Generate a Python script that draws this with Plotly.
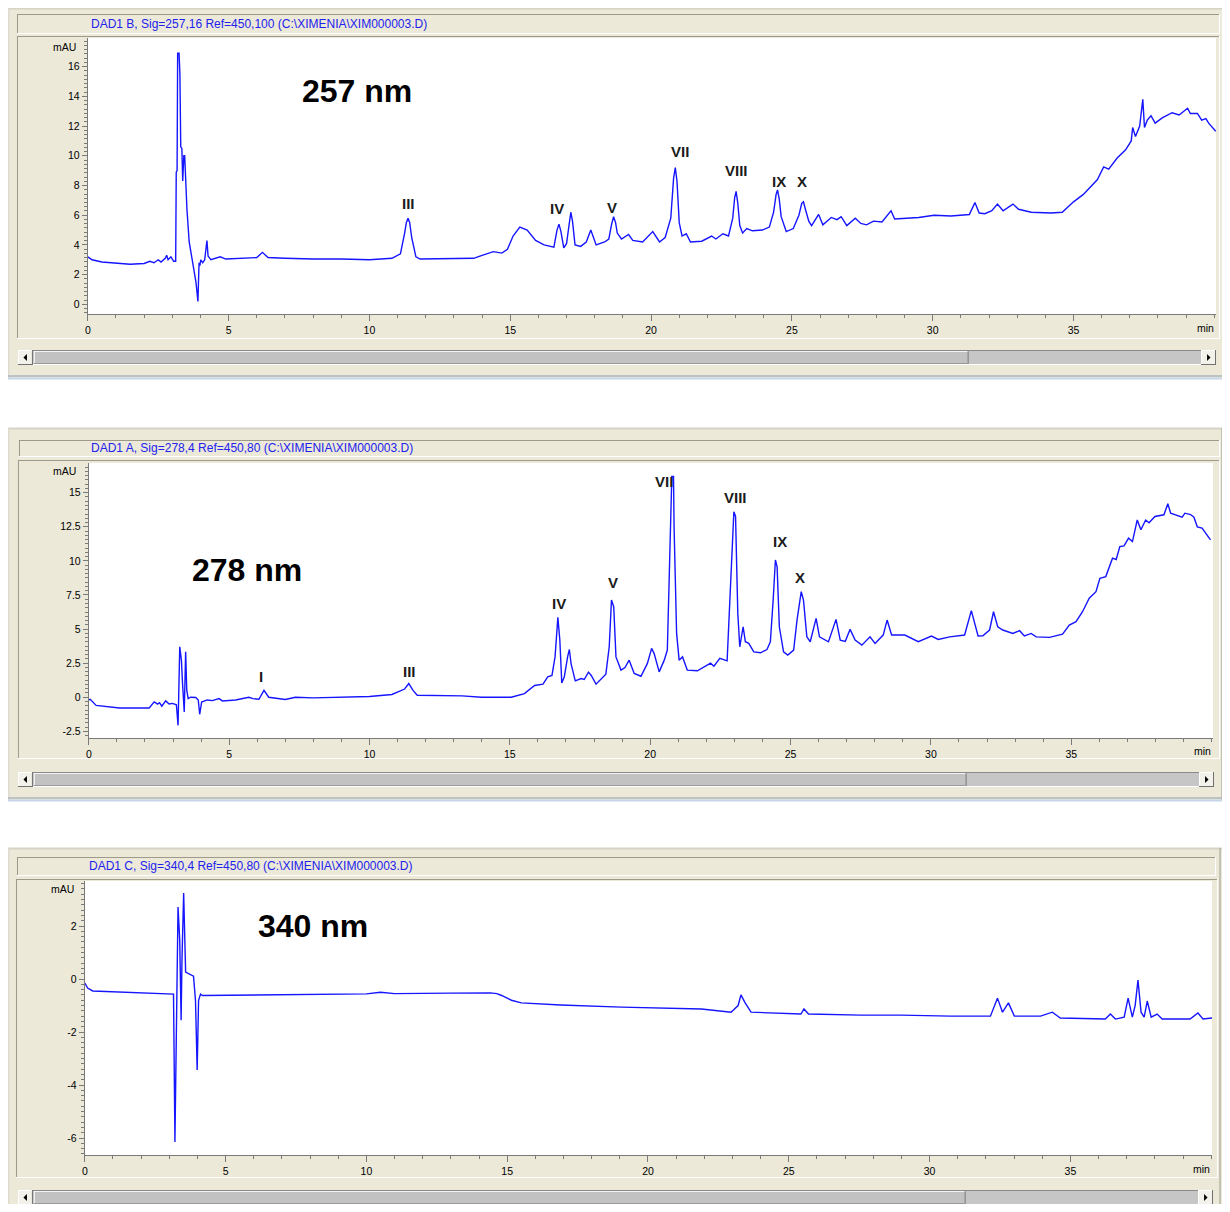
import plotly.graph_objects as go

# page body has an 8px margin: the figure is laid out in page pixels minus that offset
OFF = 8
W, H = 1230 - 2 * OFF, 1212 - 2 * OFF

# ---------------- data ----------------
# Panel 1 : DAD1 B, 257 nm
t257 = [0.00, 0.15, 0.5, 1.0, 1.5, 2.0, 2.2, 2.35, 2.5, 2.6, 2.75, 2.8, 2.85, 2.95, 3.05, 3.12,
        3.14, 3.17, 3.19, 3.24, 3.27, 3.30, 3.34, 3.37, 3.41, 3.44, 3.47, 3.52, 3.60, 3.72, 3.84,
        3.91, 3.95, 3.98, 4.01, 4.08, 4.15, 4.23, 4.27, 4.37, 4.7, 4.9, 5.5, 6.0, 6.2, 6.4, 7.0,
        8.0, 9.0, 10.0, 10.8, 11.1, 11.25, 11.31, 11.37, 11.43, 11.5, 11.65, 11.8, 13.0, 13.7, 14.0,
        14.4, 14.7, 14.9, 15.1, 15.34, 15.6, 15.9, 16.2, 16.55, 16.66, 16.73, 16.8, 16.9, 17.0,
        17.09, 17.15, 17.21, 17.3, 17.5, 17.7, 17.86, 18.05, 18.35, 18.5, 18.6, 18.67, 18.74, 18.8,
        18.95, 19.2, 19.35, 19.7, 20.06, 20.3, 20.5, 20.7, 20.8, 20.86, 20.92, 21.0, 21.1, 21.25,
        21.4, 21.8, 22.15, 22.3, 22.55, 22.75, 22.9, 22.97, 23.02, 23.08, 23.15, 23.25, 23.4, 23.6,
        23.95, 24.2, 24.35, 24.44, 24.49, 24.55, 24.62, 24.8, 25.05, 25.25, 25.35, 25.41, 25.48,
        25.6, 25.7, 25.95, 26.1, 26.4, 26.6, 26.75, 26.95, 27.25, 27.45, 27.65, 27.9, 28.2, 28.52,
        28.65, 29.5, 30.05, 30.65, 31.3, 31.5, 31.65, 31.85, 32.1, 32.3, 32.5, 32.85, 33.05, 33.5,
        34.2, 34.6, 35.0, 35.35, 35.85, 36.07, 36.25, 36.55, 36.85, 37.05, 37.1, 37.2, 37.35,
        37.46, 37.52, 37.62, 37.75, 37.9, 38.15, 38.5, 38.75, 39.05, 39.15, 39.4, 39.55, 39.7,
        39.8, 40.05]
a257 = [3.2, 3.0, 2.85, 2.75, 2.7, 2.75, 2.9, 2.8, 3.0, 2.85, 3.1, 3.3, 3.0, 3.2, 2.9, 2.9,
        8.9, 9.0, 16.9, 16.9, 15.5, 10.6, 10.5, 8.3, 10.0, 10.0, 8.3, 6.4, 4.2, 2.8, 1.5,
        0.2, 2.8, 2.6, 3.0, 2.8, 3.0, 4.3, 3.25, 3.0, 3.2, 3.05, 3.1, 3.15, 3.5, 3.15, 3.1,
        3.05, 3.05, 3.0, 3.1, 3.4, 4.8, 5.5, 5.8, 5.5, 4.5, 3.2, 3.05, 3.05, 3.1, 3.3,
        3.55, 3.45, 3.7, 4.6, 5.2, 5.0, 4.3, 4.0, 3.85, 5.0, 5.4, 4.9, 3.8, 4.1,
        5.6, 6.2, 5.6, 4.0, 3.9, 4.2, 5.0, 4.0, 4.2, 4.4, 5.4, 5.9, 5.5, 4.8,
        4.4, 4.7, 4.3, 4.2, 4.9, 4.2, 4.5, 5.8, 8.5, 9.2, 8.3, 5.5, 4.6, 4.75,
        4.2, 4.25, 4.6, 4.4, 4.75, 4.6, 5.8, 7.2, 7.6, 6.8, 5.3, 4.8, 5.1, 4.95,
        5.0, 5.2, 6.2, 7.4, 7.7, 7.1, 5.9, 4.9, 5.1, 6.0, 6.8, 6.9, 6.4,
        5.6, 5.3, 6.05, 5.35, 5.85, 5.7, 5.9, 5.3, 5.8, 5.45, 5.35, 5.6, 5.55, 6.3,
        5.75, 5.85, 6.0, 5.95, 6.05, 6.85, 6.15, 6.1, 6.3, 6.75, 6.3, 6.75, 6.4, 6.2,
        6.15, 6.2, 6.9, 7.4, 8.4, 9.25, 9.1, 9.85, 10.4, 11.0, 11.9, 11.3, 12.0,
        13.8, 11.9, 12.4, 12.7, 12.2, 12.55, 12.9, 12.75, 13.2, 12.85, 12.85, 12.4, 12.5,
        12.2, 11.65]

# Panel 2 : DAD1 A, 278 nm
t278 = [0.00, 0.05, 0.26, 0.6, 1.09, 2.15, 2.33, 2.45, 2.52, 2.60, 2.74, 2.86, 2.98, 3.12, 3.18,
        3.24, 3.30, 3.34, 3.40, 3.45, 3.49, 3.54, 3.63, 3.81, 3.90, 3.95, 4.02, 4.22, 4.4, 4.64,
        4.76, 5.23, 5.70, 5.85, 6.06, 6.24, 6.41, 7.0, 7.36, 8.0, 9.0, 10.0, 10.8, 11.1, 11.25,
        11.4, 11.55, 11.7, 12.5, 13.3, 13.99, 15.05, 15.52, 15.88, 16.18, 16.35, 16.5, 16.61,
        16.71, 16.78, 16.85, 16.94, 17.06, 17.12, 17.18, 17.33, 17.54, 17.65, 17.8, 17.9, 18.07,
        18.42, 18.54, 18.62, 18.7, 18.78, 18.96, 19.1, 19.25, 19.43, 19.67, 19.9, 20.05, 20.14,
        20.32, 20.5, 20.61, 20.73, 20.77, 20.83, 20.85, 20.94, 21.03, 21.15, 21.32, 21.68, 22.03,
        22.15, 22.27, 22.48, 22.74, 22.84, 22.98, 23.04, 23.12, 23.19, 23.31, 23.39, 23.51, 23.69,
        23.93, 24.16, 24.28, 24.38, 24.46, 24.52, 24.6, 24.75, 24.9, 25.11, 25.23, 25.38, 25.46,
        25.58, 25.7, 25.91, 26.03, 26.35, 26.62, 26.77, 26.95, 27.12, 27.3, 27.54, 27.83, 28.01,
        28.3, 28.44, 28.6, 29.07, 29.55, 30.02, 30.26, 30.67, 31.2, 31.44, 31.68, 31.85, 32.09,
        32.23, 32.38, 32.56, 32.92, 33.16, 33.33, 33.57, 33.75, 34.22, 34.69, 34.93, 35.17, 35.4,
        35.64, 35.88, 36.02, 36.23, 36.47, 36.6, 36.73, 36.88, 37.04, 37.18, 37.35, 37.48, 37.65,
        37.77, 37.98, 38.3, 38.44, 38.54, 38.95, 39.05, 39.25, 39.37, 39.49, 39.66, 39.96]
a278 = [-0.2, -0.15, -0.6, -0.66, -0.79, -0.79, -0.34, -0.5, -0.4, -0.66, -0.27, -0.5, -0.45, -0.55, -2.06,
        3.7, 2.7, 1.0, -1.08, 3.33, 0.5, -0.1, 0.0, -0.02, -0.2, -1.25, -0.35, -0.2, -0.25, -0.1,
        -0.27, -0.2, 0.0, -0.1, -0.15, 0.5, 0.0, -0.17, 0.0, -0.05, 0.0, 0.05, 0.2, 0.5, 0.6,
        1.0, 0.5, 0.15, 0.15, 0.1, 0.0, 0.0, 0.27, 0.86, 0.96, 1.5, 1.6, 2.96,
        5.86, 4.2, 1.05, 1.5, 3.0, 3.5, 2.47, 1.2, 1.37, 1.3, 1.84, 1.6, 0.96,
        1.69, 3.7, 7.13, 6.64, 2.96, 1.99, 2.18, 2.72, 1.74, 1.54, 2.48, 3.58, 3.2,
        1.86, 2.72, 3.46, 12.5, 16.2, 16.2, 12.5, 4.7, 2.72, 2.96, 1.99, 1.94, 2.35,
        2.5, 2.28, 2.85, 2.67, 7.13, 13.6, 13.26, 6.15, 3.7, 5.17, 4.07, 3.95, 3.33,
        3.26, 3.5, 4.07, 7.13, 10.07, 9.58, 5.17, 3.33, 3.09, 3.46, 5.66, 7.74, 7.13,
        4.43, 4.07, 5.78, 4.43, 4.07, 5.71, 4.19, 4.1, 4.98, 4.19, 3.82, 4.43, 3.94,
        4.56, 5.66, 4.56, 4.56, 4.07, 4.49, 4.24, 4.43, 4.56, 6.35, 4.49, 4.5, 4.93,
        6.27, 5.17, 4.93, 4.68, 4.88, 4.49, 4.68, 4.43, 4.39, 4.63, 5.29, 5.54, 6.27,
        7.26, 7.74, 8.73, 8.85, 10.2, 10.1, 11.05, 11.1, 11.67, 11.42, 13.0, 12.28, 13.0,
        12.8, 13.26, 13.38, 14.19, 13.5, 13.2, 13.5, 13.4, 13.2, 12.5, 12.4, 11.54]

# Panel 3 : DAD1 C, 340 nm
t340 = [0.0, 0.1, 0.28, 1.35, 2.41, 3.05, 3.15, 3.2, 3.26, 3.31, 3.37, 3.42, 3.45, 3.51, 3.58,
        3.72, 3.86, 3.93, 3.99, 4.04, 4.11, 4.18, 6.0, 8.0, 10.0, 10.5, 11.0, 13.0, 14.4, 14.63,
        14.8, 15.15, 15.5, 16.9, 19.06, 21.9, 22.95, 23.2, 23.3, 23.45, 23.66, 25.43, 25.54, 25.7,
        27.56, 28.98, 30.75, 32.16, 32.41, 32.59, 32.8, 33.01, 33.94, 34.36, 34.64, 36.24, 36.42,
        36.6, 36.91, 37.05, 37.2, 37.3, 37.4, 37.51, 37.62, 37.73, 37.87, 38.08, 38.26, 39.25,
        39.53, 39.71, 40.03]
a340 = [-0.15, -0.34, -0.45, -0.49, -0.53, -0.57, -0.57, -6.15, -0.6, 2.72, 1.47, -1.55, 0.7, 3.25, 0.26,
        0.19, 0.11, -0.8, -3.43, -0.8, -0.57, -0.62, -0.6, -0.58, -0.56, -0.5, -0.55, -0.53, -0.52, -0.55,
        -0.62, -0.8, -0.9, -0.98, -1.06, -1.13, -1.25, -1.0, -0.6, -0.9, -1.25, -1.32, -1.13, -1.32,
        -1.36, -1.36, -1.4, -1.4, -0.72, -1.25, -0.9, -1.4, -1.4, -1.25, -1.47, -1.51, -1.32,
        -1.51, -1.44, -0.72, -1.44, -1.0, -0.04, -1.25, -1.44, -0.83, -1.44, -1.32, -1.51, -1.51,
        -1.28, -1.51, -1.47]

x_ticks = [0, 5, 10, 15, 20, 25, 30, 35]
y257_ticks = [0, 2, 4, 6, 8, 10, 12, 14, 16]
y278_ticks = [-2.5, 0, 2.5, 5, 7.5, 10, 12.5, 15]
y278_text = ["-2.5", "0", "2.5", "5", "7.5", "10", "12.5", "15"]
y340_ticks = [-6, -4, -2, 0, 2]

titles = ["DAD1 B, Sig=257,16 Ref=450,100 (C:\\XIMENIA\\XIM000003.D)",
          "DAD1 A, Sig=278,4 Ref=450,80 (C:\\XIMENIA\\XIM000003.D)",
          "DAD1 C, Sig=340,4 Ref=450,80 (C:\\XIMENIA\\XIM000003.D)"]
wavelengths = ["257 nm", "278 nm", "340 nm"]

peaks257 = ["III", "IV", "V", "VII", "VIII", "IX", "X"]
peaks278 = ["I", "III", "IV", "V", "VII", "VIII", "IX", "X"]

# ---------------- helpers ----------------
FONT = "Liberation Sans, Arial, sans-serif"
BEIGE = "#ECE9D8"
BLUE = "#1515ff"


def px(x):
    return (x - OFF) / W


def py(y):
    return 1 - (y - OFF) / H


shapes = []


def rect(x0, y0, x1, y1, fill, line=None, lw=0):
    shapes.append(dict(type="rect", xref="paper", yref="paper", layer="below",
                       x0=px(x0), x1=px(x1), y0=py(y1), y1=py(y0), fillcolor=fill,
                       line=dict(width=lw, color=line or fill)))


def hline(x0, x1, y, color, w=1):
    shapes.append(dict(type="line", xref="paper", yref="paper", layer="below",
                       x0=px(x0), x1=px(x1), y0=py(y), y1=py(y), line=dict(color=color, width=w)))


def vline(x, y0, y1, color, w=1):
    shapes.append(dict(type="line", xref="paper", yref="paper", layer="below",
                       x0=px(x), x1=px(x), y0=py(y0), y1=py(y1), line=dict(color=color, width=w)))


def sunken(x0, y0, x1, y1, fill):
    rect(x0, y0, x1, y1, fill)
    hline(x0, x1, y0 + 0.5, "#9d9a8c")
    vline(x0 + 0.5, y0, y1, "#9d9a8c")
    hline(x0, x1, y1 - 0.5, "#ffffff")
    vline(x1 - 0.5, y0, y1, "#ffffff")


def button(x0, y0, x1, y1, direction):
    rect(x0, y0, x1, y1, "#f2f1ea")
    hline(x0, x1, y0 + 0.5, "#ffffff")
    vline(x0 + 0.5, y0, y1, "#ffffff")
    hline(x0, x1, y1 - 0.5, "#6f6f6f")
    vline(x1 - 0.5, y0, y1, "#6f6f6f")
    cx, cy = (x0 + x1) / 2, (y0 + y1) / 2
    if direction == "left":
        pts = [(cx - 2, cy), (cx + 1.5, cy - 3.5), (cx + 1.5, cy + 3.5)]
    else:
        pts = [(cx + 2, cy), (cx - 1.5, cy - 3.5), (cx - 1.5, cy + 3.5)]
    path = "M {} {} L {} {} L {} {} Z".format(*[v for p in pts for v in (px(p[0]), py(p[1]))])
    shapes.append(dict(type="path", xref="paper", yref="paper", layer="below", path=path,
                       fillcolor="#000000", line=dict(width=0)))


def window(outer, titlebar, plotbox, white, scroll, thumb_end):
    ox0, oy0, ox1, oy1 = outer
    rect(ox0, oy0, ox1, oy1, BEIGE)
    hline(ox0, ox1, oy0 + 0.5, "#d6d3c6", 2)
    vline(ox0 + 0.5, oy0, oy1, "#dedbd0", 2)
    vline(ox1 - 4, oy0, oy1, "#b7b4a6", 1.5)
    vline(ox1 - 1, oy0, oy1, "#8e8c82", 1.5)
    hline(ox0, ox1, oy1 - 3, "#aeb4bd", 1.5)
    hline(ox0, ox1, oy1 - 0.5, "#c6d5ea", 2)
    sunken(*titlebar, BEIGE)
    sunken(*plotbox, BEIGE)
    rect(*white, "#ffffff")
    sx0, sy0, sx1, sy1 = scroll
    rect(sx0, sy0, sx1, sy1, "#c6c6c6")
    hline(sx0, sx1, sy0 + 0.5, "#8a8a8a")
    hline(sx0, sx1, sy1 - 0.5, "#ffffff")
    bw = sy1 - sy0
    tx0 = sx0 + bw + 1
    rect(tx0, sy0 + 1, thumb_end, sy1 - 1, "#c2c2c2")
    hline(tx0, thumb_end, sy0 + 1.5, "#f4f4f4")
    vline(tx0 + 0.5, sy0 + 1, sy1 - 1, "#f4f4f4")
    vline(thumb_end - 0.5, sy0 + 1, sy1 - 1, "#7a7a7a")
    hline(tx0, thumb_end, sy1 - 1.5, "#9a9a9a")
    button(sx0, sy0, sx0 + bw, sy1, "left")
    button(sx1 - bw, sy0, sx1, sy1, "right")


# window chrome (page pixel boxes)
window((5, 8, 1228, 379), (14, 14, 1220, 34), (14, 36, 1220, 339), (85, 38, 1216, 314),
       (15, 350, 1216, 365), 968)
window((5, 428, 1226, 801), (16, 440, 1220, 457), (15, 460, 1220, 759), (86, 463, 1213, 738),
       (15, 772, 1214, 787), 966)
window((5, 848, 1224, 1216), (14, 857, 1216, 876), (13, 879, 1218, 1178), (82, 881, 1212, 1155),
       (15, 1190, 1213, 1205), 965)

# ---------------- figure ----------------
fig = go.Figure()
fig.add_trace(go.Scatter(x=t257, y=a257, mode="lines", line=dict(color=BLUE, width=1.4),
                         xaxis="x", yaxis="y", showlegend=False, hoverinfo="skip"))
fig.add_trace(go.Scatter(x=t278, y=a278, mode="lines", line=dict(color=BLUE, width=1.4),
                         xaxis="x2", yaxis="y2", showlegend=False, hoverinfo="skip"))
fig.add_trace(go.Scatter(x=t340, y=a340, mode="lines", line=dict(color=BLUE, width=1.4),
                         xaxis="x3", yaxis="y3", showlegend=False, hoverinfo="skip"))

TICKC = "#7a7a7a"


def xaxis(x0, x1, rng, anchor):
    return dict(domain=[px(x0), px(x1)], range=rng, anchor=anchor, tickmode="array",
                tickvals=x_ticks, ticks="outside", ticklen=6, tickcolor=TICKC, showline=True,
                linecolor=TICKC, linewidth=1, showgrid=False, zeroline=False, fixedrange=True,
                tickfont=dict(family=FONT, size=10.5, color="#000000"),
                minor=dict(tickmode="linear", tick0=0, dtick=1, ticks="outside", ticklen=3,
                           tickcolor=TICKC, showgrid=False))


def yaxis(y0, y1, rng, anchor, vals, text, mdt):
    return dict(domain=[py(y1), py(y0)], range=rng, anchor=anchor, tickmode="array",
                tickvals=vals, ticktext=text, ticks="outside", ticklen=5, tickcolor=TICKC,
                showline=True, linecolor=TICKC, linewidth=1, showgrid=False, zeroline=False,
                fixedrange=True, tickfont=dict(family=FONT, size=10.5, color="#000000"),
                minor=dict(tickmode="linear", tick0=0, dtick=mdt, ticks="outside", ticklen=3,
                           tickcolor=TICKC, showgrid=False))


annotations = []


def ann(text, x, y, xref="paper", yref="paper", size=10.5, color="#000000", xanchor="center",
        yanchor="middle"):
    annotations.append(dict(text=text, x=x, y=y, xref=xref, yref=yref, showarrow=False,
                            xanchor=xanchor, yanchor=yanchor,
                            font=dict(family=FONT, size=size, color=color)))


# title bars, units
ann(titles[0], px(256.5), py(24), size=12, color="#2222ee")
ann(titles[1], px(250), py(448), size=12, color="#2222ee")
ann(titles[2], px(249), py(866), size=12, color="#2222ee")
for (mx, my) in [(75, 47), (75, 471), (73, 889)]:
    ann("mAU", px(mx), py(my), xanchor="right")
for (nx, ny) in [(1205, 328), (1202, 751), (1201, 1169)]:
    ann("min", px(nx), py(ny))

# wavelength labels (data coords)
ann("<b>%s</b>" % wavelengths[0], 9.56, 14.36, "x", "y", size=32)
ann("<b>%s</b>" % wavelengths[1], 5.65, 9.32, "x2", "y2", size=32)
ann("<b>%s</b>" % wavelengths[2], 8.11, 2.0, "x3", "y3", size=32)

# peak labels (data coords)
pos257 = [(11.37, 6.82), (16.65, 6.42), (18.63, 6.55), (21.04, 10.26), (23.03, 8.98),
          (24.55, 8.24), (25.36, 8.24)]
for lab, (x, y) in zip(peaks257, pos257):
    ann("<b>%s</b>" % lab, x, y, "x", "y", size=15, color="#1b1b1b")
pos278 = [(6.15, 1.54), (11.44, 1.91), (16.74, 6.9), (18.66, 8.44), (20.5, 15.86),
          (23.03, 14.68), (24.63, 11.45), (25.34, 8.81)]
for lab, (x, y) in zip(peaks278, pos278):
    ann("<b>%s</b>" % lab, x, y, "x2", "y2", size=15, color="#1b1b1b")

fig.update_layout(
    width=W, height=H, margin=dict(l=0, r=0, t=0, b=0),
    paper_bgcolor="#ffffff", plot_bgcolor="rgba(0,0,0,0)",
    showlegend=False, hovermode=False,
    xaxis=xaxis(85, 1216, [0, 40.06], "y"),
    yaxis=yaxis(38, 314, [-0.65, 17.93], "x", y257_ticks, [str(v) for v in y257_ticks], 2 / 7),
    xaxis2=xaxis(86, 1213, [0, 40.05], "y2"),
    yaxis2=yaxis(463, 738, [-2.99, 17.18], "x2", y278_ticks, y278_text, 0.3125),
    xaxis3=xaxis(82, 1212, [0, 40.03], "y3"),
    yaxis3=yaxis(881, 1155, [-6.64, 3.70], "x3", y340_ticks, [str(v) for v in y340_ticks], 0.2),
    shapes=shapes, annotations=annotations,
)

fig.write_html("out.html")
